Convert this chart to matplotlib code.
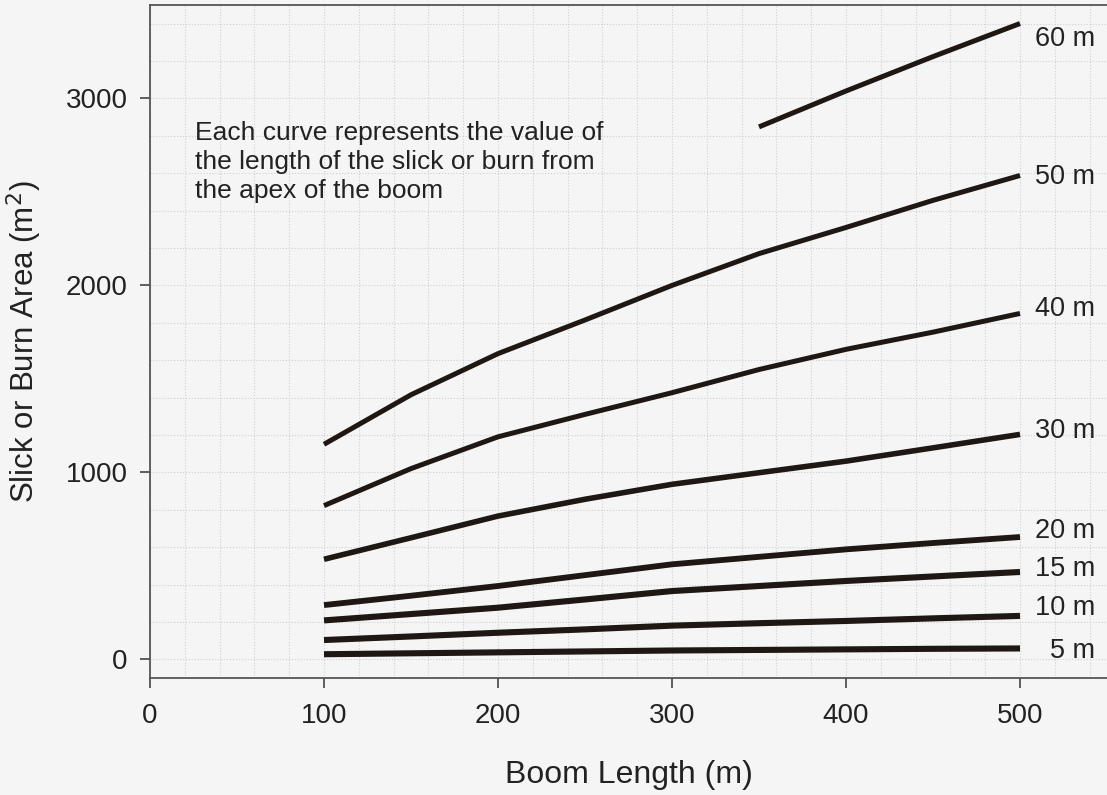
import numpy as np
import matplotlib
matplotlib.use('Agg')
import matplotlib.pyplot as plt

plt.rcParams['font.family'] = ['Liberation Sans', 'DejaVu Sans']

# boom length (m) and slick/burn area (m^2) per slick length
boom = [100, 150, 200, 250, 300, 350, 400, 450, 500]
area_5 = [27, 32, 37, 42, 47, 50, 53, 56, 58]
area_10 = [103, 122, 142, 160, 180, 193, 205, 219, 232]
area_15 = [208, 242, 276, 320, 365, 392, 419, 443, 467]
area_20 = [290, 340, 392, 450, 508, 548, 588, 622, 654]
area_30 = [535, 650, 766, 856, 936, 998, 1060, 1131, 1203]
area_40 = [822, 1020, 1190, 1310, 1426, 1550, 1658, 1750, 1850]
area_50 = [1150, 1415, 1635, 1815, 2000, 2170, 2310, 2455, 2588]
boom_60 = [350, 400, 450, 500]
area_60 = [2848, 3040, 3224, 3401]

labels = ['5 m', '10 m', '15 m', '20 m', '30 m', '40 m', '50 m', '60 m']
label_y = [44, 275, 483, 686, 1221, 1873, 2578, 3316]

bg = '#f5f5f5'
ink = '#1e1713'
txt = '#222222'

fig = plt.figure(figsize=(11.07, 7.95), dpi=100, facecolor=bg)
ax = fig.add_axes([0.1355, 0.1472, 0.8645, 0.8465], facecolor=bg)

series = [(boom, area_5, 4.4), (boom, area_10, 4.4), (boom, area_15, 4.4),
          (boom, area_20, 4.2), (boom, area_30, 4.0), (boom, area_40, 3.6),
          (boom, area_50, 3.6), (boom_60, area_60, 3.6)]
for xs, ys, lw in series:
    ax.plot(xs, ys, color=ink, lw=lw, solid_capstyle='butt',
            solid_joinstyle='round', zorder=3)

for lab, yl in zip(labels, label_y):
    ax.text(543, yl, lab, ha='right', va='center', fontsize=19.5, color=txt)

ax.text(26, 2880, 'Each curve represents the value of\nthe length of the slick or burn from\nthe apex of the boom',
        ha='left', va='top', fontsize=19, color=txt, linespacing=1.27)

ax.set_xlim(0, 550)
ax.set_ylim(-100, 3500)
ax.set_xticks([0, 100, 200, 300, 400, 500])
ax.set_yticks([0, 1000, 2000, 3000])
ax.set_xticks(np.arange(0, 551, 20), minor=True)
ax.set_yticks(np.arange(0, 3501, 200), minor=True)
ax.tick_params(which='minor', length=0)
ax.tick_params(which='major', length=7, width=1.2, color='#444444',
               labelsize=20, labelcolor=txt)
ax.tick_params(axis='x', which='major', pad=11)
ax.tick_params(axis='y', which='major', pad=9)
ax.grid(which='both', ls=':', color='#d0d0d0', lw=0.8)
ax.set_axisbelow(True)

for s in ['left', 'bottom', 'top']:
    ax.spines[s].set_color('#555555')
    ax.spines[s].set_linewidth(1.3)
ax.spines['right'].set_visible(False)

ax.set_xlabel('Boom Length (m)', fontsize=23, color=txt, labelpad=22)
ax.set_ylabel('Slick or Burn Area (m$^2$)', fontsize=22.5, color=txt, labelpad=16)

fig.savefig('out.png', dpi=100, facecolor=bg)
